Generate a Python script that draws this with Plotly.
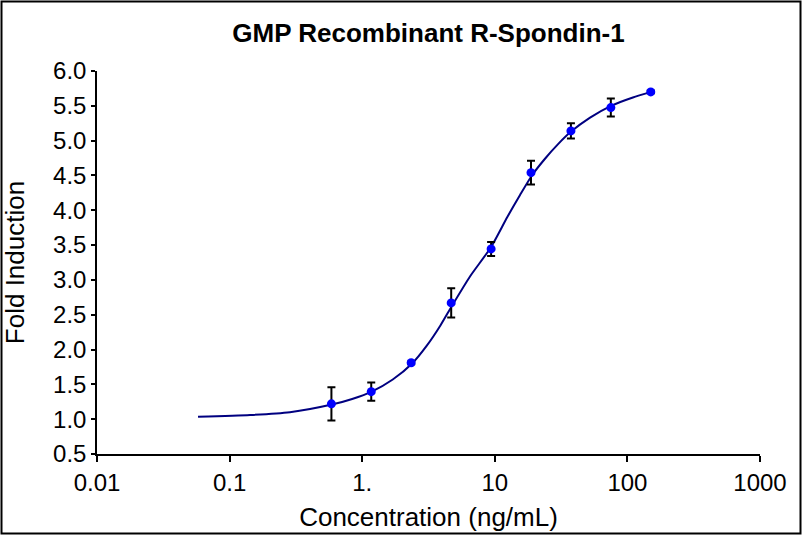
import plotly.graph_objects as go

# Measured data points (concentration ng/mL, fold induction, error)
conc = [0.586, 1.17, 2.34, 4.69, 9.38, 18.75, 37.5, 75.0, 150.0]
fold = [1.22, 1.395, 1.81, 2.67, 3.445, 4.54, 5.14, 5.475, 5.70]
err = [0.24, 0.13, 0.02, 0.21, 0.10, 0.17, 0.11, 0.13, 0.02]

# Fitted curve
curve_x = [0.0578, 0.1426, 0.285, 0.59, 0.84, 1.19, 1.7, 2.38, 3.08, 3.9,
           4.76, 6.5, 9.36, 12.4, 15.5, 19.05, 23.9, 30.0, 37.6, 52.3,
           75.2, 110.0, 150.7]
curve_y = [1.036, 1.06, 1.10, 1.21, 1.29, 1.40, 1.57, 1.80, 2.06, 2.35,
           2.63, 3.05, 3.47, 3.90, 4.22, 4.50, 4.74, 4.95, 5.13, 5.33,
           5.50, 5.62, 5.70]

x_tickvals = [0.01, 0.1, 1, 10, 100, 1000]
x_ticktext = ["0.01", "0.1", "1.", "10", "100", "1000"]
y_tickvals = [0.5, 1.0, 1.5, 2.0, 2.5, 3.0, 3.5, 4.0, 4.5, 5.0, 5.5, 6.0]

FONT = "Liberation Sans, Arial, sans-serif"

fig = go.Figure()
fig.add_trace(go.Scatter(
    x=curve_x, y=curve_y, mode="lines",
    line=dict(color="#000080", width=2, shape="spline", smoothing=0.6),
    hoverinfo="skip", showlegend=False,
))
fig.add_trace(go.Scatter(
    x=conc, y=fold, mode="markers",
    marker=dict(color="#0000FF", size=9),
    error_y=dict(type="data", array=err, visible=True, color="black",
                 thickness=2, width=4),
    showlegend=False,
))

W, H = 802, 535
L, R, T, B = 97, 42, 71, 81
pw, ph = W - L - R, H - T - B

fig.update_layout(
    width=W, height=H,
    margin=dict(l=L, r=R, t=T, b=B, pad=0, autoexpand=False),
    paper_bgcolor="white", plot_bgcolor="white",
    font=dict(family=FONT, color="black"),
    title=dict(text="<b>GMP Recombinant R-Spondin-1</b>",
               font=dict(size=26, family=FONT, color="black"),
               x=(L + pw / 2) / W, xanchor="center",
               y=1 - 33 / H, yanchor="middle"),
    xaxis=dict(
        type="log", range=[-2, 3], automargin=False,
        tickvals=x_tickvals, ticktext=x_ticktext,
        showline=True, linecolor="black", linewidth=1.5,
        ticks="outside", ticklen=6, tickwidth=1.5, tickcolor="black",
        showgrid=False, zeroline=False,
        tickfont=dict(size=24, family=FONT),
        title=dict(text="Concentration (ng/mL)", font=dict(size=26, family=FONT),
                   standoff=13),
    ),
    yaxis=dict(
        range=[0.5, 6.0], automargin=False,
        tickvals=y_tickvals, tickformat=".1f",
        showline=True, linecolor="black", linewidth=1.5,
        ticks="outside", ticklen=4, tickwidth=1.5, tickcolor="black",
        showgrid=False, zeroline=False,
        tickfont=dict(size=24, family=FONT),
        title=dict(text="Fold Induction", font=dict(size=26, family=FONT),
                   standoff=21),
    ),
    shapes=[dict(
        type="rect", xref="paper", yref="paper",
        x0=(-L + 1.5) / pw, x1=1 + (R - 1.5) / pw,
        y0=(-B + 1.5) / ph, y1=1 + (T - 1.5) / ph,
        line=dict(color="black", width=2), fillcolor="rgba(0,0,0,0)",
        layer="above",
    )],
)

fig.write_html(
    "out.html",
    config={"displayModeBar": False},
    post_script="document.body.style.margin='0';document.body.style.overflow='hidden';",
)
